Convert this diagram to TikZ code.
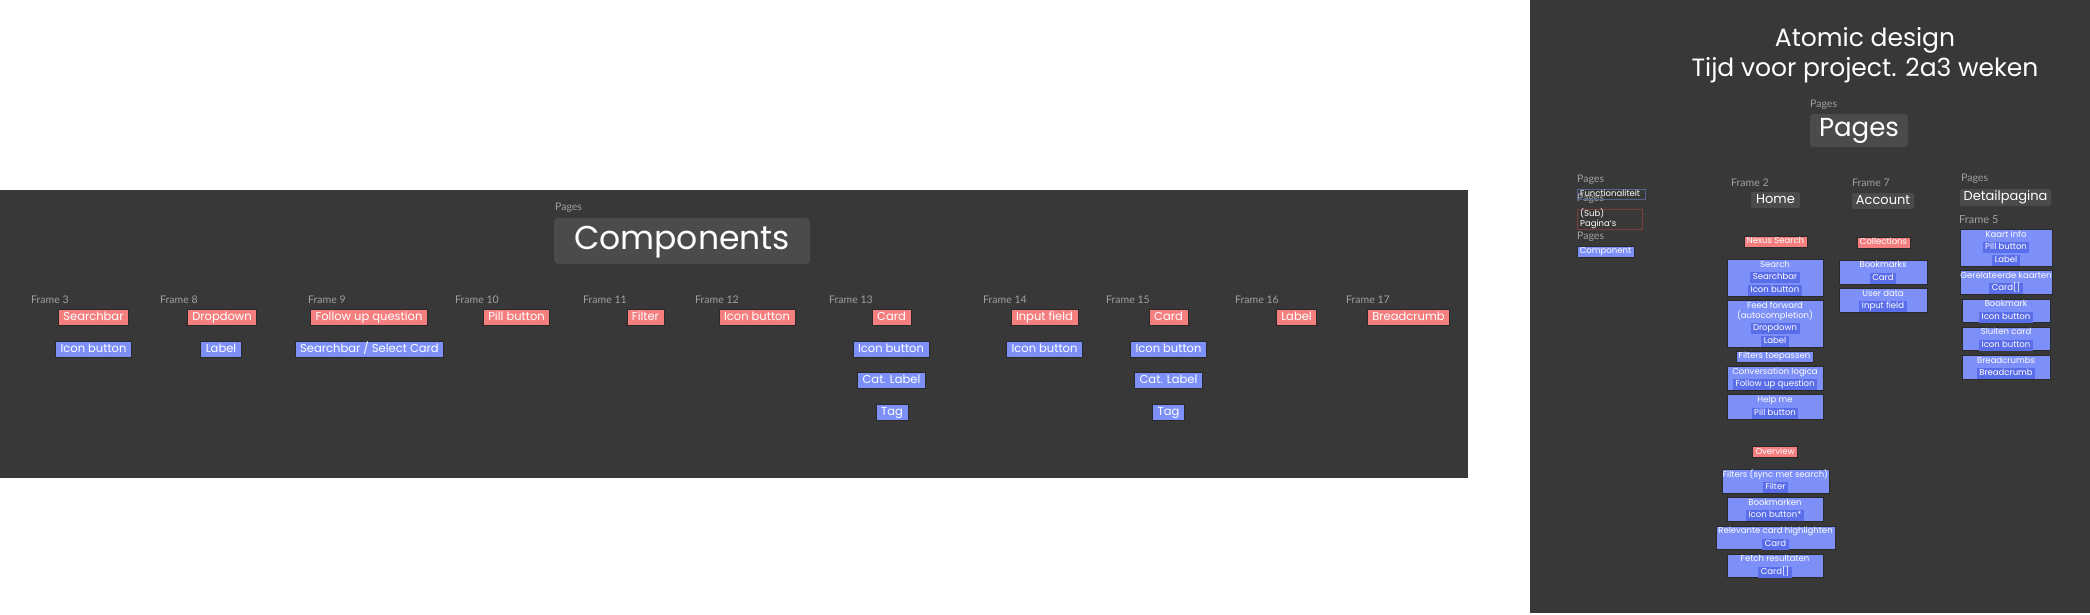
\documentclass[tikz,border=0pt]{standalone}
\usepackage{fontspec}
\setmainfont{Poppins}
\newfontfamily\uifont{Lato}
\definecolor{bgdark}{HTML}{383838}
\definecolor{ttlbox}{HTML}{4B4B4B}
\definecolor{lbltext}{HTML}{A0A0A0}
\definecolor{cred}{HTML}{F57F7F}
\definecolor{cblue}{HTML}{7D8FF8}
\definecolor{chipblue}{HTML}{5B6EEA}
\definecolor{edgedark}{HTML}{2A2A2A}
\definecolor{fnedge}{HTML}{55628F}
\definecolor{subedge}{HTML}{7E3E3E}
\begin{document}
\begin{tikzpicture}[x=1pt,y=-1pt,
  lbl/.style={font=\uifont\fontsize{10.5}{12}\selectfont, text=lbltext, inner sep=0pt, anchor=west},
  bigred/.style={fill=cred, draw=edgedark, line width=0.7pt, text=white, font=\fontsize{11.5}{13}\selectfont, inner xsep=5pt, inner ysep=0pt, minimum height=16pt, text height=8.5pt, text depth=2.5pt},
  bigblue/.style={bigred, fill=cblue},
  sred/.style={fill=cred, draw=edgedark, line width=0.6pt, text=white, font=\fontsize{8.5}{10}\selectfont, inner xsep=3pt, inner ysep=0pt, minimum height=11pt, text height=6.3pt, text depth=1.8pt},
  sblue/.style={sred, fill=cblue},
  gbox/.style={fill=cblue, draw=edgedark, line width=0.6pt, inner sep=0pt},
  gtxt/.style={text=white, font=\fontsize{8.5}{10}\selectfont, inner sep=0pt, text height=6.3pt, text depth=1.8pt},
  chip/.style={fill=chipblue, text=white, font=\fontsize{8.5}{10}\selectfont, inner xsep=2.5pt, inner ysep=0pt, minimum height=11pt, text height=6.3pt, text depth=1.8pt},
  pgbox/.style={fill=ttlbox, text=white, rounded corners=2pt, inner sep=0pt, text height=9pt, text depth=3pt, font=\fontsize{13}{15}\selectfont}
]
\useasboundingbox (0,0) rectangle (2090,615);
\fill[white] (0,0) rectangle (2090,615);
\fill[bgdark] (0,190) rectangle (1468,478);
\fill[bgdark] (1530,0) rectangle (2090,613);

% ---------------- Components panel ----------------
\node[lbl] (cpageslbl) at (555,208) {Pages};
\node[fill=ttlbox, rounded corners=4pt, minimum width=256pt, minimum height=46pt, inner sep=0pt, text=white, font=\fontsize{33}{36}\selectfont, text height=24pt, text depth=7pt] (comptitle) at (682,241) {Components};

\node[lbl] (f3) at (31,300) {Frame 3};
\node[lbl] (f8) at (160,300) {Frame 8};
\node[lbl] (f9) at (308,300) {Frame 9};
\node[lbl] (f10) at (455,300) {Frame 10};
\node[lbl] (f11) at (583,300) {Frame 11};
\node[lbl] (f12) at (695,300) {Frame 12};
\node[lbl] (f13) at (829,300) {Frame 13};
\node[lbl] (f14) at (983,300) {Frame 14};
\node[lbl] (f15) at (1106,300) {Frame 15};
\node[lbl] (f16) at (1235,300) {Frame 16};
\node[lbl] (f17) at (1346,300) {Frame 17};

\node[bigred] (r3) at (93.5,317.5) {Searchbar};
\node[bigred] (r8) at (222,317.5) {Dropdown};
\node[bigred] (r9) at (369,317.5) {Follow up question};
\node[bigred] (r10) at (516.5,317.5) {Pill button};
\node[bigred] (r11) at (645.5,317.5) {Filter};
\node[bigred] (r12) at (757,317.5) {Icon button};
\node[bigred] (r13) at (891.5,317.5) {Card};
\node[bigred] (r14) at (1044.5,317.5) {Input field};
\node[bigred] (r15) at (1168.5,317.5) {Card};
\node[bigred] (r16) at (1296.5,317.5) {Label};
\node[bigred] (r17) at (1408.5,317.5) {Breadcrumb};

\node[bigblue] (b3) at (93.5,349) {Icon button};
\node[bigblue] (b8) at (221,349) {Label};
\node[bigblue] (b9) at (369.5,349) {Searchbar / Select Card};
\node[bigblue] (b13a) at (891,349) {Icon button};
\node[bigblue] (b14) at (1044.5,349) {Icon button};
\node[bigblue] (b15a) at (1168.5,349) {Icon button};
\node[bigblue] (b13b) at (891.5,380.5) {Cat. Label};
\node[bigblue] (b15b) at (1168.5,380.5) {Cat. Label};
\node[bigblue] (b13c) at (892,412) {Tag};
\node[bigblue] (b15c) at (1168.5,412) {Tag};

% ---------------- Pages panel ----------------
\node[text=white, font=\fontsize{25}{30}\selectfont, inner sep=0pt, anchor=base] (title1) at (1865,47) {Atomic design};
\node[text=white, font=\fontsize{25}{30}\selectfont, inner sep=0pt, anchor=base] (title2) at (1865,77) {Tijd voor project. 2a3 weken};

\node[lbl] (ppageslbl) at (1810,105) {Pages};
\node[fill=ttlbox, rounded corners=3pt, minimum width=98pt, minimum height=33pt, inner sep=0pt, text=white, font=\fontsize{26}{30}\selectfont, text height=19pt, text depth=6pt] (pagestitle) at (1859,130.5) {Pages};

% legend column
\node[lbl] (lg1) at (1577,180) {Pages};
\node[lbl] (lg2) at (1577,199) {Pages};
\node[draw=fnedge, line width=0.8pt, minimum width=68pt, minimum height=10pt, inner sep=0pt] (fnbox) at (1611,194) {};
\node[gtxt, anchor=west] (fntxt) at (1580,194) {Functionaliteit};
\node[draw=subedge, line width=0.8pt, minimum width=65pt, minimum height=20pt, inner sep=0pt] (subbox) at (1609.5,219) {};
\node[gtxt, anchor=west] (subtxt1) at (1580,214) {(Sub)};
\node[gtxt, anchor=west] (subtxt2) at (1580,224.5) {Pagina's};
\node[lbl] (lg3) at (1577,237) {Pages};
\node[sblue, minimum width=57pt, inner xsep=0pt] (compleg) at (1605.5,251.5) {Component};

% headers
\node[lbl] (fr2) at (1731,183) {Frame 2};
\node[lbl] (fr7) at (1852,183) {Frame 7};
\node[lbl] (pgdet) at (1961,179) {Pages};
\node[lbl, font=\uifont\fontsize{11}{12}\selectfont] (fr5) at (1959,220) {Frame 5};
\node[pgbox, minimum width=49pt, minimum height=16pt] (home) at (1775.5,200) {Home};
\node[pgbox, minimum width=62pt, minimum height=16pt] (account) at (1883,201) {Account};
\node[pgbox, minimum width=91pt, minimum height=17pt] (detail) at (2005.5,197.5) {Detailpagina};

% Home column
\node[sred] (nexus) at (1775.5,241.5) {Nexus Search};
\node[gbox, minimum width=96pt, minimum height=37pt] (gsearch) at (1775,277.5) {};
\node[gtxt] (gsearch1) at (1775,265) {Search};
\node[chip] (gsearch2) at (1775,277.5) {Searchbar};
\node[chip] (gsearch3) at (1775,290) {Icon button};

\node[gbox, minimum width=96pt, minimum height=47pt] (gfeed) at (1775,323.5) {};
\node[gtxt] (gfeed1) at (1775,306) {Feed forward};
\node[gtxt] (gfeed2) at (1775,316) {(autocompletion)};
\node[chip] (gfeed3) at (1775,328.5) {Dropdown};
\node[chip] (gfeed4) at (1775,341) {Label};

\node[sblue, minimum width=77pt, inner xsep=0pt] (filters) at (1774.5,356.5) {Filters toepassen};

\node[gbox, minimum width=96pt, minimum height=24pt] (gconv) at (1775,378) {};
\node[gtxt] (gconv1) at (1775,372) {Conversation logica};
\node[chip] (gconv2) at (1775,384) {Follow up question};

\node[gbox, minimum width=96pt, minimum height=25pt] (ghelp) at (1775,406.5) {};
\node[gtxt] (ghelp1) at (1775,400) {Help me};
\node[chip] (ghelp2) at (1775,413) {Pill button};

\node[sred] (overview) at (1775,452) {Overview};

\node[gbox, minimum width=107pt, minimum height=24pt] (gsync) at (1775.5,481) {};
\node[gtxt] (gsync1) at (1775.5,475) {Filters (sync met search)};
\node[chip] (gsync2) at (1775.5,487) {Filter};

\node[gbox, minimum width=96pt, minimum height=24pt] (gbm) at (1775,509) {};
\node[gtxt] (gbm1) at (1775,503) {Bookmarken};
\node[chip] (gbm2) at (1775,515) {Icon button*};

\node[gbox, minimum width=119pt, minimum height=23pt] (grel) at (1775.5,537.5) {};
\node[gtxt] (grel1) at (1775.5,531.5) {Relevante card highlighten};
\node[chip] (grel2) at (1775.5,544) {Card};

\node[gbox, minimum width=96pt, minimum height=23pt] (gfetch) at (1775,565.5) {};
\node[gtxt] (gfetch1) at (1775,559.5) {Fetch resultaten};
\node[chip] (gfetch2) at (1775,572) {Card[]};

% Account column
\node[sred] (collections) at (1883.5,242.5) {Collections};
\node[gbox, minimum width=88pt, minimum height=24pt] (gbmk) at (1883,272) {};
\node[gtxt] (gbmk1) at (1883,265.5) {Bookmarks};
\node[chip] (gbmk2) at (1883,278) {Card};
\node[gbox, minimum width=88pt, minimum height=24pt] (guser) at (1883,300) {};
\node[gtxt] (guser1) at (1883,294) {User data};
\node[chip] (guser2) at (1883,306) {Input field};

% Detail column
\node[gbox, minimum width=92pt, minimum height=37pt] (gkaart) at (2006,247.5) {};
\node[gtxt] (gkaart1) at (2006,235) {Kaart info};
\node[chip] (gkaart2) at (2006,247.5) {Pill button};
\node[chip] (gkaart3) at (2006,260) {Label};

\node[gbox, minimum width=92pt, minimum height=24pt] (ggerel) at (2006,282) {};
\node[gtxt] (ggerel1) at (2006,276) {Gerelateerde kaarten};
\node[chip] (ggerel2) at (2006,288) {Card[]};

\node[gbox, minimum width=88pt, minimum height=23pt] (gbmark) at (2006,310.5) {};
\node[gtxt] (gbmark1) at (2006,304.5) {Bookmark};
\node[chip] (gbmark2) at (2006,317) {Icon button};

\node[gbox, minimum width=88pt, minimum height=23pt] (gsluit) at (2006,338.5) {};
\node[gtxt] (gsluit1) at (2006,332.5) {Sluiten card};
\node[chip] (gsluit2) at (2006,345) {Icon button};

\node[gbox, minimum width=88pt, minimum height=24pt] (gbread) at (2006,367) {};
\node[gtxt] (gbread1) at (2006,361) {Breadcrumbs};
\node[chip] (gbread2) at (2006,373) {Breadcrumb};
\end{tikzpicture}
\end{document}
